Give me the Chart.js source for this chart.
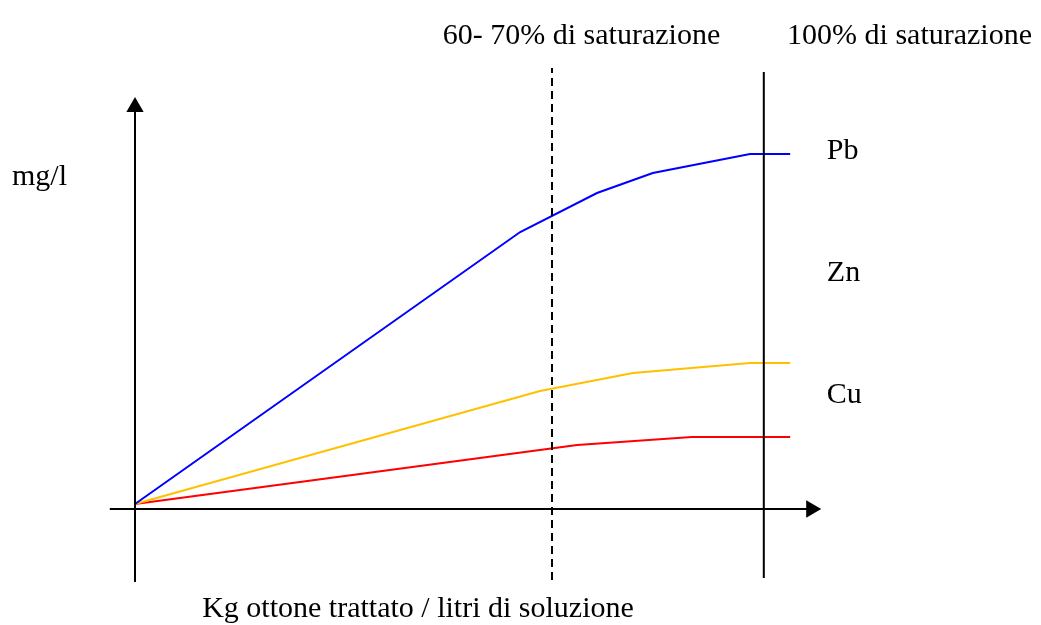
<!DOCTYPE html>
<html>
<head>
<meta charset="utf-8">
<script src="https://cdn.jsdelivr.net/npm/chart.js@4.4.1/dist/chart.umd.min.js"></script>
<style>
  html, body { margin: 0; padding: 0; background: #fff; }
  #wrap { width: 1041px; height: 625px; }
</style>
</head>
<body>
<div id="wrap"><canvas id="chart" width="1041" height="625"></canvas></div>
<script>
// curves (x: kg/l, y: mg/l, arbitrary units)
const pbX = [0, 6.42, 7.7, 8.63, 10.25, 10.92];
const pbY = [1.25, 69.25, 79, 84, 88.75, 88.75];
const znX = [0, 6.75, 8.3, 10.25, 10.92];
const znY = [1.25, 29.5, 34, 36.5, 36.5];
const cuX = [0, 7.37, 9.28, 10.92];
const cuY = [1.25, 16, 18, 18];

// reference lines
const sat70X = 6.95;
const sat100X = 10.48;

const COLORS = {
    pb: '#0000FF',
    zn: '#FFC000',
    cu: '#FF0000',
    ink: '#000000'
};

const FONT = '30px "Liberation Serif", "Times New Roman", serif';

function pts(xs, ys) {
    return xs.map((x, i) => ({ x, y: ys[i] }));
}

function curve(xs, ys, color) {
    return {
        data: pts(xs, ys),
        borderColor: color,
        borderWidth: 2,
        pointRadius: 0,
        tension: 0,
        clip: false
    };
}

// axes with arrow heads (triangle point at the end)
const xAxisLine = {
    data: [{ x: -0.42, y: 0 }, { x: 11.27, y: 0 }],
    borderColor: COLORS.ink,
    borderWidth: 2,
    pointRadius: [0, 10],
    pointStyle: 'triangle',
    rotation: 90,
    pointBackgroundColor: COLORS.ink,
    pointBorderWidth: 0,
    clip: false
};
const yAxisLine = {
    data: [{ x: 0, y: -18.25 }, { x: 0, y: 100.5 }],
    borderColor: COLORS.ink,
    borderWidth: 2,
    pointRadius: [0, 10],
    pointStyle: 'triangle',
    rotation: 0,
    pointBackgroundColor: COLORS.ink,
    pointBorderWidth: 0,
    clip: false
};

const sat70Line = {
    data: [{ x: sat70X, y: -17.75 }, { x: sat70X, y: 110.25 }],
    borderColor: COLORS.ink,
    borderWidth: 2,
    borderDash: [8, 5],
    pointRadius: 0,
    clip: false
};
const sat100Line = {
    data: [{ x: sat100X, y: -17.25 }, { x: sat100X, y: 109.25 }],
    borderColor: COLORS.ink,
    borderWidth: 2,
    pointRadius: 0,
    clip: false
};

// text labels placed in data units (y = baseline)
const labels = [
    { text: '60- 70% di saturazione', x: 5.13, y: 116.25, align: 'left' },
    { text: '100% di saturazione', x: 14.95, y: 116.25, align: 'right' },
    { text: 'mg/l', x: -2.05, y: 81, align: 'left' },
    { text: 'Pb', x: 11.53, y: 87.5, align: 'left' },
    { text: 'Zn', x: 11.53, y: 57, align: 'left' },
    { text: 'Cu', x: 11.53, y: 26.5, align: 'left' },
    { text: 'Kg ottone trattato / litri di soluzione', x: 1.12, y: -27, align: 'left' }
];

const textPlugin = {
    id: 'sketchText',
    beforeDraw(chart) {
        const ctx = chart.ctx;
        ctx.save();
        ctx.fillStyle = '#fff';
        ctx.fillRect(0, 0, chart.width, chart.height);
        ctx.restore();
    },
    afterDraw(chart) {
        const ctx = chart.ctx;
        const xs = chart.scales.x;
        const ys = chart.scales.y;
        ctx.save();
        ctx.font = FONT;
        ctx.fillStyle = '#000';
        ctx.textBaseline = 'alphabetic';
        labels.forEach(l => {
            ctx.textAlign = l.align;
            ctx.fillText(l.text, xs.getPixelForValue(l.x), ys.getPixelForValue(l.y));
        });
        ctx.restore();
    }
};

new Chart(document.getElementById('chart'), {
    type: 'line',
    data: {
        datasets: [
            xAxisLine,
            yAxisLine,
            sat70Line,
            sat100Line,
            curve(pbX, pbY, COLORS.pb),
            curve(znX, znY, COLORS.zn),
            curve(cuX, cuY, COLORS.cu)
        ]
    },
    options: {
        responsive: false,
        animation: false,
        layout: { padding: { left: 135, right: 186, top: 109, bottom: 116 } },
        plugins: {
            legend: { display: false },
            tooltip: { enabled: false }
        },
        scales: {
            x: { type: 'linear', min: 0, max: 12, display: false },
            y: { type: 'linear', min: 0, max: 100, display: false }
        }
    },
    plugins: [textPlugin]
});
</script>
</body>
</html>
